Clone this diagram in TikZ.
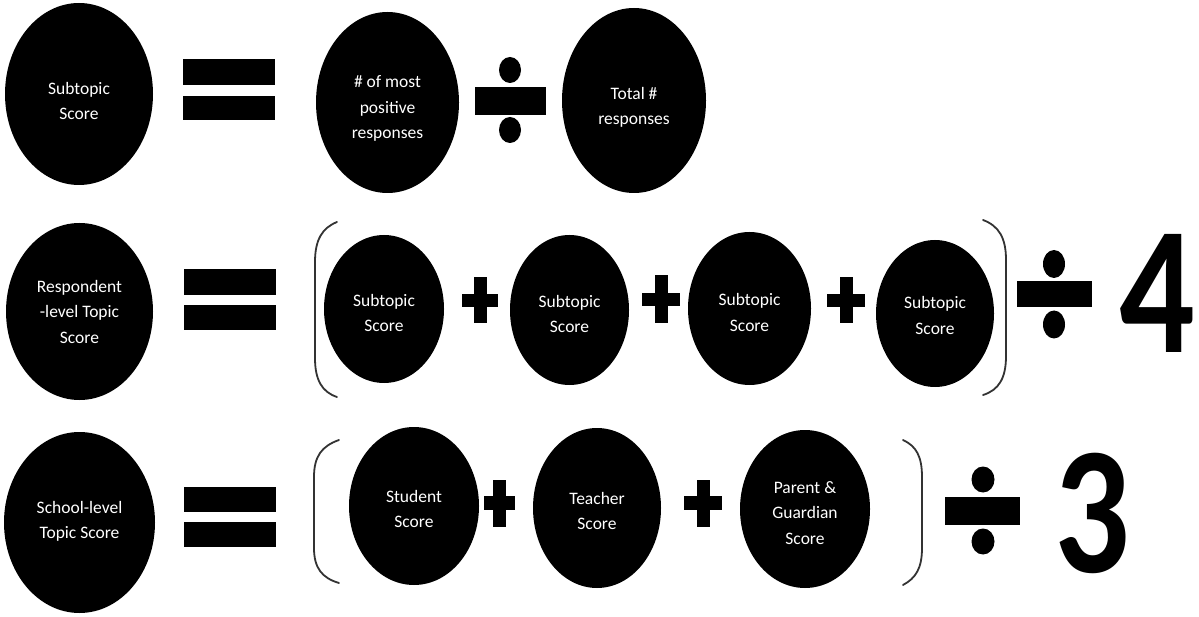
\documentclass[tikz,border=0pt]{standalone}
\usepackage{fontspec}
\setmainfont{Carlito}
\newfontfamily\digitfont{Carlito}
\usetikzlibrary{shapes.geometric}
\tikzset{
  ell/.style={ellipse, fill=black, inner sep=0pt},
  txt/.style={text=white, inner sep=0pt, align=center,
    font=\fontsize{17.5}{25.5}\selectfont},
  brk/.style={draw=black!80, line width=1.8pt, line cap=round},
  digit/.style={inner sep=0pt, font=\digitfont\bfseries\fontsize{182}{182}\selectfont, xscale=0.82}
}
\begin{document}
\begin{tikzpicture}[x=1pt,y=-1pt]
\useasboundingbox (0,0) rectangle (1199,617);
\fill[white] (0,0) rectangle (1199,617);
% ---------- Row 1 ----------
\node[ell, minimum width=148pt, minimum height=182pt] (a1) at (79,94) {};
\node[txt] (a1t) at ([yshift=-7pt]a1.center) {Subtopic\\Score};
\fill (183,59) rectangle (275,85);
\fill (183,96) rectangle (275,120);
\node[ell, minimum width=143pt, minimum height=181pt] (a2) at (387.5,102.5) {};
\node[txt] (a2t) at ([yshift=-6pt]a2.center) {\# of most\\positive\\responses};
\fill (475,87) rectangle (546,115);
\fill (510,70) ellipse [x radius=11pt, y radius=13pt];
\fill (510,130) ellipse [x radius=11pt, y radius=13pt];
\node[ell, minimum width=144pt, minimum height=185pt] (a3) at (634,100.5) {};
\node[txt] (a3t) at ([yshift=-7pt]a3.center) {Total \#\\responses};
% ---------- Row 2 ----------
\node[ell, minimum width=147pt, minimum height=177pt] (b1) at (79.5,311.5) {};
\node[txt] (b1t) at (b1.center) {Respondent\\-level Topic\\Score};
\fill (184,269) rectangle (276,295);
\fill (184,305) rectangle (276,330);
\draw[brk] (337,222) .. controls (322,228) and (315,240) .. (315,262) -- (315,358) .. controls (315,380) and (322,392) .. (337,397);
\node[ell, minimum width=120pt, minimum height=148pt] (s1) at (384,309) {};
\node[txt] (s1t) at ([yshift=-4pt]s1.center) {Subtopic\\Score};
\fill (462,294) rectangle (498,307);
\fill (473.5,277) rectangle (486.5,323);
\node[ell, minimum width=119pt, minimum height=150pt] (s2) at (569.5,310) {};
\node[txt] (s2t) at ([yshift=-4pt]s2.center) {Subtopic\\Score};
\fill (642,293) rectangle (680,306);
\fill (654.5,275) rectangle (667.5,323);
\node[ell, minimum width=123pt, minimum height=153pt] (s3) at (749.5,308.5) {};
\node[txt] (s3t) at ([yshift=-4pt]s3.center) {Subtopic\\Score};
\fill (827,294) rectangle (865,307);
\fill (839.5,277) rectangle (852.5,323);
\node[ell, minimum width=118pt, minimum height=147pt] (s4) at (935,313.5) {};
\node[txt] (s4t) at ([yshift=-2pt]s4.center) {Subtopic\\Score};
\draw[brk] (983,220) .. controls (999,226) and (1006,238) .. (1006,260) -- (1006,356) .. controls (1006,378) and (999,390) .. (983,395);
\fill (1017,281) rectangle (1092,307);
\fill (1054,264) ellipse [x radius=11pt, y radius=14pt];
\fill (1054,324.5) ellipse [x radius=11pt, y radius=14pt];
\node[digit] (four) at (1157,293) {4};
% ---------- Row 3 ----------
\node[ell, minimum width=151pt, minimum height=181pt] (c1) at (79.5,522.5) {};
\node[txt] (c1t) at ([yshift=1pt]c1.center) {School-level\\Topic Score};
\fill (184,487) rectangle (276,512);
\fill (184,522) rectangle (276,547);
\draw[brk] (339,440) .. controls (322,446) and (314,456) .. (314,477) -- (314,548) .. controls (314,568) and (322,578) .. (339,583);
\node[ell, minimum width=130pt, minimum height=158pt] (t1) at (414,506) {};
\node[txt] (t1t) at ([yshift=-3pt]t1.center) {Student\\Score};
\fill (484,496) rectangle (515,510);
\fill (493,480) rectangle (506,527);
\node[ell, minimum width=128pt, minimum height=160pt] (t2) at (597,508) {};
\node[txt] (t2t) at ([yshift=-3pt]t2.center) {Teacher\\Score};
\fill (684,496) rectangle (722,510);
\fill (696.5,480) rectangle (709.5,527);
\node[ell, minimum width=130pt, minimum height=158pt] (t3) at (805,509) {};
\node[txt] (t3t) at ([yshift=-4pt]t3.center) {Parent \&\\Guardian\\Score};
\draw[brk] (903,440) .. controls (916,446) and (922,456) .. (922,477) -- (922,548) .. controls (922,568) and (916,578) .. (903,585);
\fill (945,497) rectangle (1020,525);
\fill (983,479.5) ellipse [x radius=11.5pt, y radius=13pt];
\fill (983,541.5) ellipse [x radius=11.5pt, y radius=13pt];
\node[digit] (three) at (1092.5,513.5) {3};
\end{tikzpicture}
\end{document}
